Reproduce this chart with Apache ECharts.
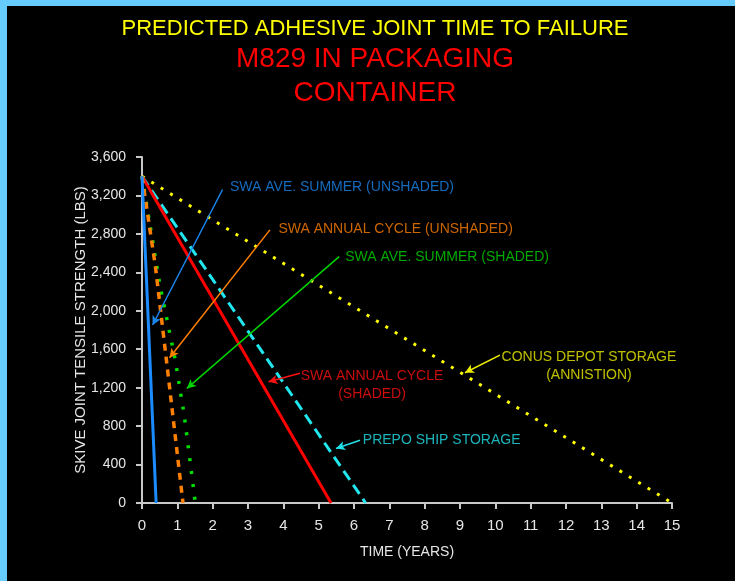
<!DOCTYPE html>
<html>
<head>
<meta charset="utf-8">
<script src="https://cdn.jsdelivr.net/npm/echarts@6/dist/echarts.min.js"></script>
<style>
html, body { margin: 0; padding: 0; background: #66ccff; }
#chart { position: absolute; left: 7px; top: 6px; width: 728px; height: 575px; }
</style>
</head>
<body>
<div id="chart"></div>
<script>
// curves: [years, lbs]
const summerUnshaded = [[0, 3400], [0.40, 0]];
const annualUnshaded = [[0, 3400], [0.38, 2460], [0.75, 1300], [1.16, 0]];
const summerShaded = [[0, 3400], [0.50, 2280], [0.94, 1490], [1.20, 900], [1.51, 0]];
const annualShaded = [[0, 3400], [5.35, 0]];
const prepoShip = [[0, 3400], [6.33, 0]];
const conusDepot = [[0, 3400], [15, 0]];

const yTicks = [0, 400, 800, 1200, 1600, 2000, 2400, 2800, 3200, 3600];
const xTicks = [0, 1, 2, 3, 4, 5, 6, 7, 8, 9, 10, 11, 12, 13, 14, 15];

const FONT = 'Liberation Sans, Arial, sans-serif';

// callouts: arrow from tail to head, text anchored in data space
const callouts = [
  { text: 'SWA AVE. SUMMER (UNSHADED)', color: '#1a86ee', tail: [2.28, 3262], head: [0.30, 1852], at: [2.49, 3291], align: 'left' },
  { text: 'SWA ANNUAL CYCLE (UNSHADED)', color: '#ff8000', tail: [3.62, 2842], head: [0.78, 1512], at: [3.86, 2852], align: 'left' },
  { text: 'SWA AVE. SUMMER (SHADED)', color: '#00d400', tail: [5.58, 2563], head: [1.27, 1192], at: [5.75, 2558], align: 'left' },
  { text: 'SWA ANNUAL CYCLE\n(SHADED)', color: '#ff1010', tail: [4.47, 1349], head: [3.58, 1261], at: [6.51, 1227], align: 'center' },
  { text: 'PREPO SHIP STORAGE', color: '#22e0e8', tail: [6.17, 653], head: [5.49, 567], at: [6.25, 653], align: 'left' },
  { text: 'CONUS DEPOT STORAGE\n(ANNISTION)', color: '#eeee00', tail: [10.13, 1539], head: [9.14, 1355], at: [12.65, 1427], align: 'center' }
];

function curve(name, data, color, type, width) {
  return {
    name: name,
    type: 'line',
    data: data,
    symbol: 'none',
    silent: true,
    lineStyle: { color: color, width: width, type: type, cap: 'butt' }
  };
}

const myChart = echarts.init(document.getElementById('chart'));

const option = {
  backgroundColor: '#000',
  animation: false,
  graphic: [
    { type: 'text', x: 368, y: 23, style: { text: 'PREDICTED ADHESIVE JOINT TIME TO FAILURE', fill: '#ffff00', font: '22px ' + FONT, align: 'center', verticalAlign: 'middle' } },
    { type: 'text', x: 368, y: 53, style: { text: 'M829 IN PACKAGING', fill: '#ff0000', font: '28px ' + FONT, align: 'center', verticalAlign: 'middle' } },
    { type: 'text', x: 368, y: 87, style: { text: 'CONTAINER', fill: '#ff0000', font: '28px ' + FONT, align: 'center', verticalAlign: 'middle' } }
  ],
  grid: { left: 135, right: 63, top: 151, bottom: 78 },
  xAxis: {
    type: 'value',
    min: 0,
    max: 15,
    interval: 1,
    name: 'TIME (YEARS)',
    nameLocation: 'middle',
    nameGap: 42,
    nameMoveOverlap: false,
    nameTextStyle: { color: '#e6e6e6', fontSize: 14, fontFamily: FONT },
    axisLine: { lineStyle: { color: '#c8c8c8', width: 2 } },
    axisTick: { show: true, length: 6, lineStyle: { color: '#c8c8c8', width: 2 } },
    axisLabel: {
      color: '#e6e6e6', fontSize: 15, fontFamily: FONT, margin: 15,
      formatter: v => xTicks.includes(v) ? String(v) : ''
    },
    splitLine: { show: false }
  },
  yAxis: {
    type: 'value',
    min: 0,
    max: 3600,
    interval: 400,
    name: 'SKIVE JOINT TENSILE STRENGTH (LBS)',
    nameLocation: 'middle',
    nameGap: 54,
    nameMoveOverlap: false,
    nameTextStyle: { color: '#e6e6e6', fontSize: 15, fontFamily: FONT },
    axisLine: { show: true, lineStyle: { color: '#c8c8c8', width: 2 } },
    axisTick: { show: true, length: 6, lineStyle: { color: '#c8c8c8', width: 2 } },
    axisLabel: {
      color: '#e6e6e6', fontSize: 14, fontFamily: FONT, margin: 16,
      formatter: v => yTicks.includes(v) ? v.toLocaleString('en-US') : ''
    },
    splitLine: { show: false }
  },
  series: [
    curve('CONUS DEPOT STORAGE', conusDepot, '#ffff00', [3, 8], 3),
    curve('PREPO SHIP STORAGE', prepoShip, '#22e6ee', [11, 6], 3),
    curve('SWA ANNUAL CYCLE (SHADED)', annualShaded, '#ff0000', 'solid', 3),
    curve('SWA AVE. SUMMER (SHADED)', summerShaded, '#00e000', [3, 10], 3.5),
    curve('SWA ANNUAL CYCLE (UNSHADED)', annualUnshaded, '#ff8000', [7, 6], 3.5),
    curve('SWA AVE. SUMMER (UNSHADED)', summerUnshaded, '#1a8cff', 'solid', 3),
    {
      name: 'arrows',
      type: 'line',
      data: [],
      silent: true,
      markLine: {
        silent: true,
        symbol: ['none', 'arrow'],
        symbolSize: [7, 9],
        label: { show: false },
        emphasis: { disabled: true },
        data: callouts.map(c => [
          { coord: c.tail, lineStyle: { color: c.color, width: 1.5, type: 'solid' } },
          { coord: c.head }
        ])
      }
    },
    {
      name: 'labels',
      type: 'scatter',
      symbolSize: 0,
      silent: true,
      data: callouts.map(c => ({
        value: c.at,
        label: {
          show: true,
          formatter: c.text,
          color: c.color,
          fontSize: 14,
          fontFamily: FONT,
          lineHeight: 18,
          position: c.align === 'left' ? 'right' : 'inside',
          distance: 0,
          align: c.align
        }
      }))
    }
  ]
};

myChart.setOption(option);
window.onresize = () => { myChart.resize(); };
</script>
</body>
</html>
